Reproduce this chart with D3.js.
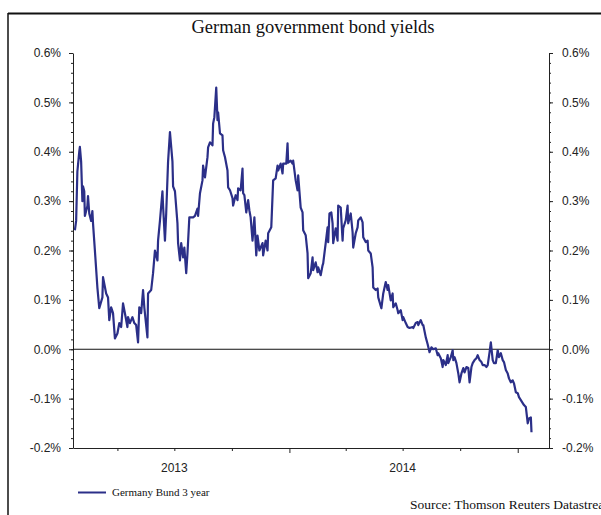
<!DOCTYPE html>
<html>
<head>
<meta charset="utf-8">
<script src="https://cdn.jsdelivr.net/npm/d3@7"></script>
<style>
    body { margin: 0; background: #fff; }
    svg { display: block; }
    .tick text { font-family: 'Liberation Sans', sans-serif; font-size: 12px; fill: #222; }
    .domain, .tick line { stroke: #222; }
</style>
</head>
<body>
<svg id="chart"></svg>
<script>
// Germany Bund 3 year yield, %
const dates = [
    '2013-01-23','2013-01-25','2013-01-27','2013-01-30','2013-01-31','2013-02-02','2013-02-04','2013-02-05','2013-02-07','2013-02-08','2013-02-12','2013-02-13','2013-02-15','2013-02-18','2013-02-20','2013-02-21','2013-02-24','2013-02-28',
    '2013-03-03','2013-03-08','2013-03-09','2013-03-14','2013-03-17','2013-03-19','2013-03-22','2013-03-25','2013-03-28',
    '2013-04-01','2013-04-04','2013-04-07','2013-04-10','2013-04-13','2013-04-17','2013-04-18','2013-04-21','2013-04-25','2013-04-28',
    '2013-05-01','2013-05-04','2013-05-06','2013-05-09','2013-05-12','2013-05-14','2013-05-19','2013-05-20','2013-05-25','2013-05-28','2013-05-31',
    '2013-06-04','2013-06-05','2013-06-08','2013-06-12','2013-06-13','2013-06-16','2013-06-18','2013-06-21','2013-06-24','2013-06-28','2013-06-29',
    '2013-07-02','2013-07-06','2013-07-07','2013-07-10','2013-07-12','2013-07-15','2013-07-17','2013-07-20','2013-07-22','2013-07-25','2013-07-31',
    '2013-08-03','2013-08-07','2013-08-08','2013-08-11','2013-08-15','2013-08-16','2013-08-19','2013-08-23','2013-08-24','2013-08-27','2013-08-31',
    '2013-09-01','2013-09-03','2013-09-06','2013-09-08','2013-09-09','2013-09-12','2013-09-16','2013-09-17','2013-09-20','2013-09-24','2013-09-25','2013-09-28',
    '2013-10-02','2013-10-03','2013-10-07','2013-10-10','2013-10-11','2013-10-15','2013-10-18','2013-10-19','2013-10-21','2013-10-24','2013-10-27','2013-10-29','2013-10-31',
    '2013-11-03','2013-11-06','2013-11-09','2013-11-11','2013-11-14','2013-11-19','2013-11-20','2013-11-24','2013-11-27','2013-11-28',
    '2013-12-03','2013-12-06','2013-12-10','2013-12-13','2013-12-14','2013-12-18','2013-12-21','2013-12-22','2013-12-27','2013-12-29','2013-12-30',
    '2014-01-03','2014-01-06','2014-01-07','2014-01-11','2014-01-14','2014-01-15','2014-01-19','2014-01-22','2014-01-23','2014-01-27','2014-01-30','2014-01-31',
    '2014-02-04','2014-02-07','2014-02-08','2014-02-12','2014-02-15','2014-02-16','2014-02-20','2014-02-23','2014-02-24','2014-02-28',
    '2014-03-03','2014-03-04','2014-03-06','2014-03-09','2014-03-11','2014-03-12','2014-03-16','2014-03-19','2014-03-20','2014-03-24','2014-03-27','2014-03-28',
    '2014-04-01','2014-04-04','2014-04-05','2014-04-09','2014-04-12','2014-04-13','2014-04-17','2014-04-20','2014-04-21','2014-04-25','2014-04-28','2014-04-29',
    '2014-05-03','2014-05-06','2014-05-07','2014-05-11','2014-05-14','2014-05-15','2014-05-19','2014-05-22','2014-05-23','2014-05-28','2014-05-31',
    '2014-06-04','2014-06-07','2014-06-08','2014-06-12','2014-06-15','2014-06-16','2014-06-20','2014-06-23','2014-06-24','2014-06-28',
    '2014-07-01','2014-07-02','2014-07-06','2014-07-09','2014-07-12','2014-07-17','2014-07-18','2014-07-22','2014-07-25','2014-07-26','2014-07-30',
    '2014-08-02','2014-08-03','2014-08-07','2014-08-10','2014-08-13','2014-08-16','2014-08-19','2014-08-23','2014-08-26','2014-08-27','2014-08-31',
    '2014-09-03','2014-09-04','2014-09-08','2014-09-11','2014-09-12','2014-09-16','2014-09-19','2014-09-20','2014-09-22','2014-09-25','2014-09-28','2014-09-30',
    '2014-10-03','2014-10-06','2014-10-08','2014-10-11','2014-10-14','2014-10-16','2014-10-19','2014-10-21','2014-10-24','2014-10-27','2014-10-29',
    '2014-11-01','2014-11-04','2014-11-06','2014-11-09','2014-11-12','2014-11-14','2014-11-17','2014-11-19','2014-11-22','2014-11-24','2014-11-27','2014-11-30',
    '2014-12-02','2014-12-05','2014-12-08','2014-12-10','2014-12-13','2014-12-16','2014-12-18','2014-12-21','2014-12-24','2014-12-26','2014-12-29',
    '2015-01-01','2015-01-03','2015-01-06','2015-01-09','2015-01-11','2015-01-14','2015-01-17','2015-01-19','2015-01-22','2015-01-23',
];
const bund3y = [
    0.241,0.26,0.36,0.40,0.41,0.38,0.30,0.33,0.32,0.27,0.29,0.31,0.275,0.26,0.28,0.255,0.20,0.125,
    0.083,0.105,0.146,0.113,0.105,0.059,0.085,0.073,0.022,
    0.032,0.053,0.045,0.093,0.073,0.045,0.065,0.053,0.065,0.053,
    0.049,0.014,0.085,0.073,0.12,0.085,0.024,0.113,0.12,0.154,0.20,
    0.18,0.22,0.26,0.32,0.29,0.22,0.275,0.38,0.44,0.38,0.33,
    0.32,0.255,0.215,0.18,0.215,0.186,0.206,0.154,0.194,0.267,0.267,
    0.27,0.285,0.27,0.316,0.342,0.372,0.348,0.389,0.409,0.419,0.413,
    0.457,0.47,0.53,0.464,0.48,0.437,0.433,0.403,0.389,0.362,0.328,0.322,
    0.306,0.291,0.312,0.302,0.326,0.322,0.366,0.316,0.312,0.277,0.302,0.281,0.267,
    0.22,0.267,0.19,0.23,0.20,0.215,0.19,0.22,0.20,0.235,
    0.247,0.342,0.346,0.372,0.362,0.376,0.356,0.376,0.376,0.417,0.378,
    0.382,0.376,0.382,0.342,0.322,0.352,0.287,0.277,0.241,0.231,0.194,0.144,
    0.154,0.186,0.16,0.176,0.156,0.166,0.15,0.17,0.174,0.215,
    0.247,0.217,0.275,0.277,0.255,0.215,0.245,0.22,0.291,0.287,0.22,0.245,
    0.261,0.291,0.255,0.275,0.237,0.206,0.235,0.247,0.261,0.267,0.257,0.227,
    0.217,0.22,0.20,0.194,0.166,0.125,0.12,0.123,0.105,0.083,0.113,
    0.136,0.12,0.13,0.099,0.113,0.085,0.093,0.079,0.073,0.079,
    0.059,0.065,0.053,0.045,0.043,0.045,0.043,0.053,0.055,0.049,0.059,
    0.049,0.049,0.024,0.010,-0.006,0.004,0.0,0.002,-0.012,-0.008,-0.018,
    -0.036,-0.022,-0.032,-0.012,-0.028,-0.016,-0.002,-0.022,-0.016,-0.028,-0.049,-0.067,
    -0.049,-0.038,-0.047,-0.036,-0.038,-0.067,-0.036,-0.028,-0.022,-0.018,-0.012,
    -0.022,-0.026,-0.032,-0.032,-0.036,-0.032,-0.006,0.014,-0.022,-0.028,-0.028,-0.002,
    -0.016,-0.008,-0.022,-0.026,-0.042,-0.049,-0.059,-0.067,-0.063,-0.069,-0.087,
    -0.089,-0.097,-0.103,-0.109,-0.113,-0.117,-0.15,-0.14,-0.138,-0.168,
];

const xDomain = ['2013-01-20', '2015-02-20'];
const quarterTicks = ['2013-04-01','2013-07-01','2013-10-01','2014-01-01','2014-04-01','2014-07-01','2014-10-01','2015-01-01'];
const yearLabels = ['2013', '2014'];
const yTicks = [-0.2, -0.1, 0.0, 0.1, 0.2, 0.3, 0.4, 0.5, 0.6];

const title = 'German government bond yields';
const seriesName = 'Germany Bund 3 year';
const source = 'Source: Thomson Reuters Datastream';

const W = 601, H = 515;
const margin = { top: 53, right: 52, bottom: 67, left: 73 };
const lineColor = '#2b2f88';

const parse = d3.timeParse('%Y-%m-%d');
const series = dates.map((d, i) => ({ date: parse(d), value: bund3y[i] }));

const svg = d3.select('#chart').attr('width', W).attr('height', H);

// frame of the original screenshot
svg.append('line').attr('x1', 8).attr('x2', W).attr('y1', 13.5).attr('y2', 13.5)
    .attr('stroke', '#111').attr('stroke-width', 2);
svg.append('line').attr('x1', 8).attr('x2', 8).attr('y1', 13).attr('y2', H)
    .attr('stroke', '#111').attr('stroke-width', 1.5);

svg.append('text')
    .attr('x', 313).attr('y', 33)
    .attr('text-anchor', 'middle')
    .style('font-family', "'Liberation Serif', serif")
    .style('font-size', '18.5px')
    .attr('fill', '#111')
    .text(title);

const innerW = W - margin.left - margin.right;
const innerH = H - margin.top - margin.bottom;

const x = d3.scaleTime().domain(xDomain.map(parse)).range([margin.left, margin.left + innerW]);
const y = d3.scaleLinear().domain([-0.2, 0.6]).range([margin.top + innerH, margin.top]);

const fmt = d => `${d.toFixed(1)}%`;
const minor = y.ticks(40);

// left axis
svg.append('g')
    .attr('transform', `translate(${margin.left},0)`)
    .call(d3.axisLeft(y).tickValues(minor).tickSize(2).tickFormat(''))
    .call(g => g.select('.domain').remove());
svg.append('g')
    .attr('transform', `translate(${margin.left},0)`)
    .call(d3.axisLeft(y).tickValues(yTicks).tickSize(4).tickSizeOuter(0).tickPadding(8).tickFormat(fmt));

// right axis
svg.append('g')
    .attr('transform', `translate(${margin.left + innerW},0)`)
    .call(d3.axisRight(y).tickValues(minor).tickSize(2).tickFormat(''))
    .call(g => g.select('.domain').remove());
svg.append('g')
    .attr('transform', `translate(${margin.left + innerW},0)`)
    .call(d3.axisRight(y).tickValues(yTicks).tickSize(4).tickSizeOuter(0).tickPadding(9).tickFormat(fmt))
    .call(g => g.selectAll('.tick text').attr('text-anchor', 'start'));

// bottom axis: quarter ticks, longer at year ends, year labels mid-year
const xAxis = svg.append('g')
    .attr('transform', `translate(0,${margin.top + innerH})`)
    .call(d3.axisBottom(x).tickValues(quarterTicks.map(parse)).tickSize(3).tickSizeOuter(0).tickFormat(''));
xAxis.selectAll('.tick line').attr('y2', d => d.getMonth() === 0 ? 5 : 3);

svg.selectAll('.year-label')
    .data(yearLabels)
    .join('text')
    .attr('class', 'year-label')
    .attr('x', d => x(parse(`${d}-07-01`)))
    .attr('y', margin.top + innerH + 24)
    .attr('text-anchor', 'middle')
    .style('font-family', "'Liberation Sans', sans-serif")
    .style('font-size', '12px')
    .attr('fill', '#222')
    .text(d => d);

// zero line
svg.append('line')
    .attr('x1', margin.left).attr('x2', margin.left + innerW)
    .attr('y1', y(0)).attr('y2', y(0))
    .attr('stroke', '#111').attr('stroke-width', 1);

const line = d3.line().x(d => x(d.date)).y(d => y(d.value));
svg.append('path')
    .datum(series)
    .attr('d', line)
    .attr('fill', 'none')
    .attr('stroke', lineColor)
    .attr('stroke-width', 2.2)
    .attr('stroke-linejoin', 'round');

// legend
svg.append('line')
    .attr('x1', 78).attr('x2', 106).attr('y1', 492.5).attr('y2', 492.5)
    .attr('stroke', lineColor).attr('stroke-width', 2);
svg.append('text')
    .attr('x', 112).attr('y', 496)
    .style('font-family', "'Liberation Serif', serif")
    .style('font-size', '11px')
    .attr('fill', '#111')
    .text(seriesName);

// the source line runs past the right edge in the original
svg.append('text')
    .attr('x', 410).attr('y', 509)
    .style('font-family', "'Liberation Serif', serif")
    .style('font-size', '13.5px')
    .attr('fill', '#111')
    .text(source);
</script>
</body>
</html>
